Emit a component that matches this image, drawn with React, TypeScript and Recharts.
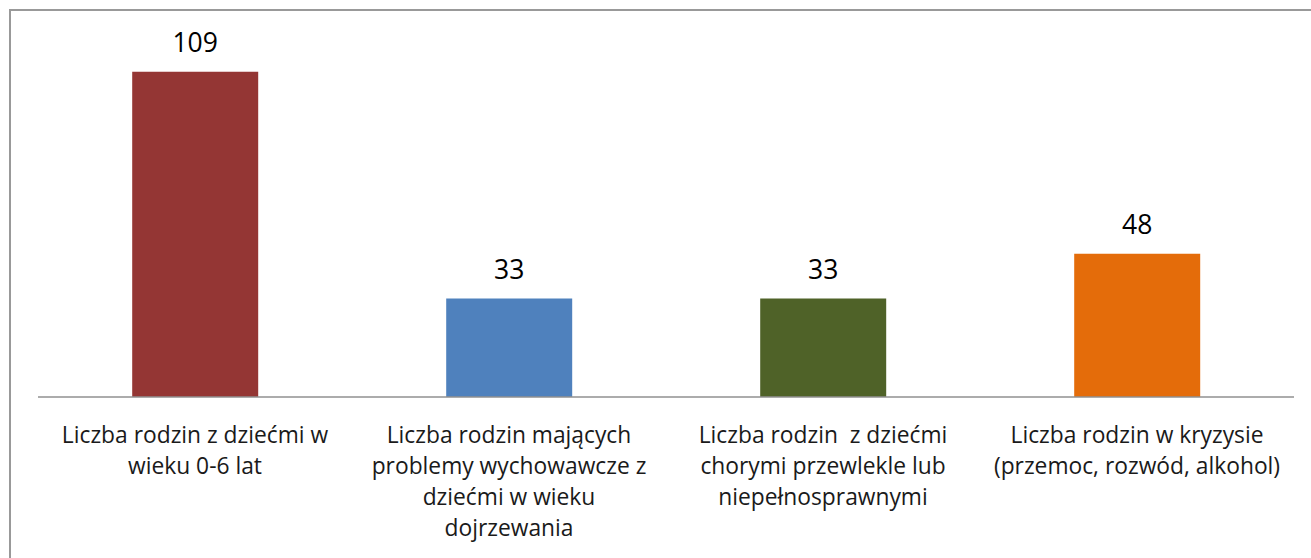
import React from "react";
import { BarChart, Bar, XAxis, YAxis, Cell, LabelList } from "recharts";

// kategorie (podzielone na linie jak w oryginale)
const categoryLines: string[][] = [
  ["Liczba rodzin z dziećmi w", "wieku 0-6 lat"],
  ["Liczba rodzin mających", "problemy wychowawcze z", "dziećmi w wieku", "dojrzewania"],
  ["Liczba rodzin  z dziećmi", "chorymi przewlekle lub", "niepełnosprawnymi"],
  ["Liczba rodzin w kryzysie", "(przemoc, rozwód, alkohol)"],
];
const values = [109, 33, 33, 48];
const barColors = ["#943634", "#4f81bd", "#4f6228", "#e46c0a"];

const chartData = categoryLines.map((lines, i) => ({
  name: lines.join(" "),
  idx: i,
  value: values[i],
}));

const FONT = "'Open Sans', 'Noto Sans', sans-serif";

const CategoryTick = (props: any) => {
  const { x, y, payload } = props;
  const lines = categoryLines[payload.index] || [payload.value];
  return (
    <g transform={`translate(${x},${y})`}>
      {lines.map((line: string, i: number) => (
        <text
          key={i}
          x={0}
          y={38 + i * 31}
          textAnchor="middle"
          fontFamily={FONT}
          fontSize={22.8}
          fill="#1a1a1a"
          style={{ whiteSpace: "pre" }}
        >
          {line}
        </text>
      ))}
    </g>
  );
};

const ValueLabel = (props: any) => {
  const { x, y, width, value } = props;
  return (
    <text
      x={x + width / 2}
      y={y - 20}
      textAnchor="middle"
      fontFamily={FONT}
      fontSize={26.5}
      fill="#000"
    >
      {value}
    </text>
  );
};

export default function App() {
  return (
    <div style={{ position: "absolute", left: 0, top: 0, width: 1311, height: 558, background: "#fff", overflow: "hidden" }}>
      <div
        style={{
          position: "absolute",
          left: 9,
          top: 9,
          width: 1320,
          height: 580,
          border: "2px solid #999",
          boxSizing: "border-box",
        }}
      />
      <div style={{ position: "absolute", left: 0, top: 0 }}>
        <BarChart
          width={1311}
          height={558}
          data={chartData}
          margin={{ top: 39, right: 17, left: 38, bottom: 0 }}
          barCategoryGap="30%"
        >
          <XAxis
            dataKey="name"
            height={161}
            interval={0}
            tickLine={false}
            axisLine={{ stroke: "#909090", strokeWidth: 1.5 }}
            tick={<CategoryTick />}
          />
          <YAxis hide domain={[0, 120]} />
          <Bar dataKey="value" isAnimationActive={false}>
            {chartData.map((entry, i) => (
              <Cell key={`cell-${i}`} fill={barColors[i]} />
            ))}
            <LabelList dataKey="value" content={<ValueLabel />} />
          </Bar>
        </BarChart>
      </div>
    </div>
  );
}
